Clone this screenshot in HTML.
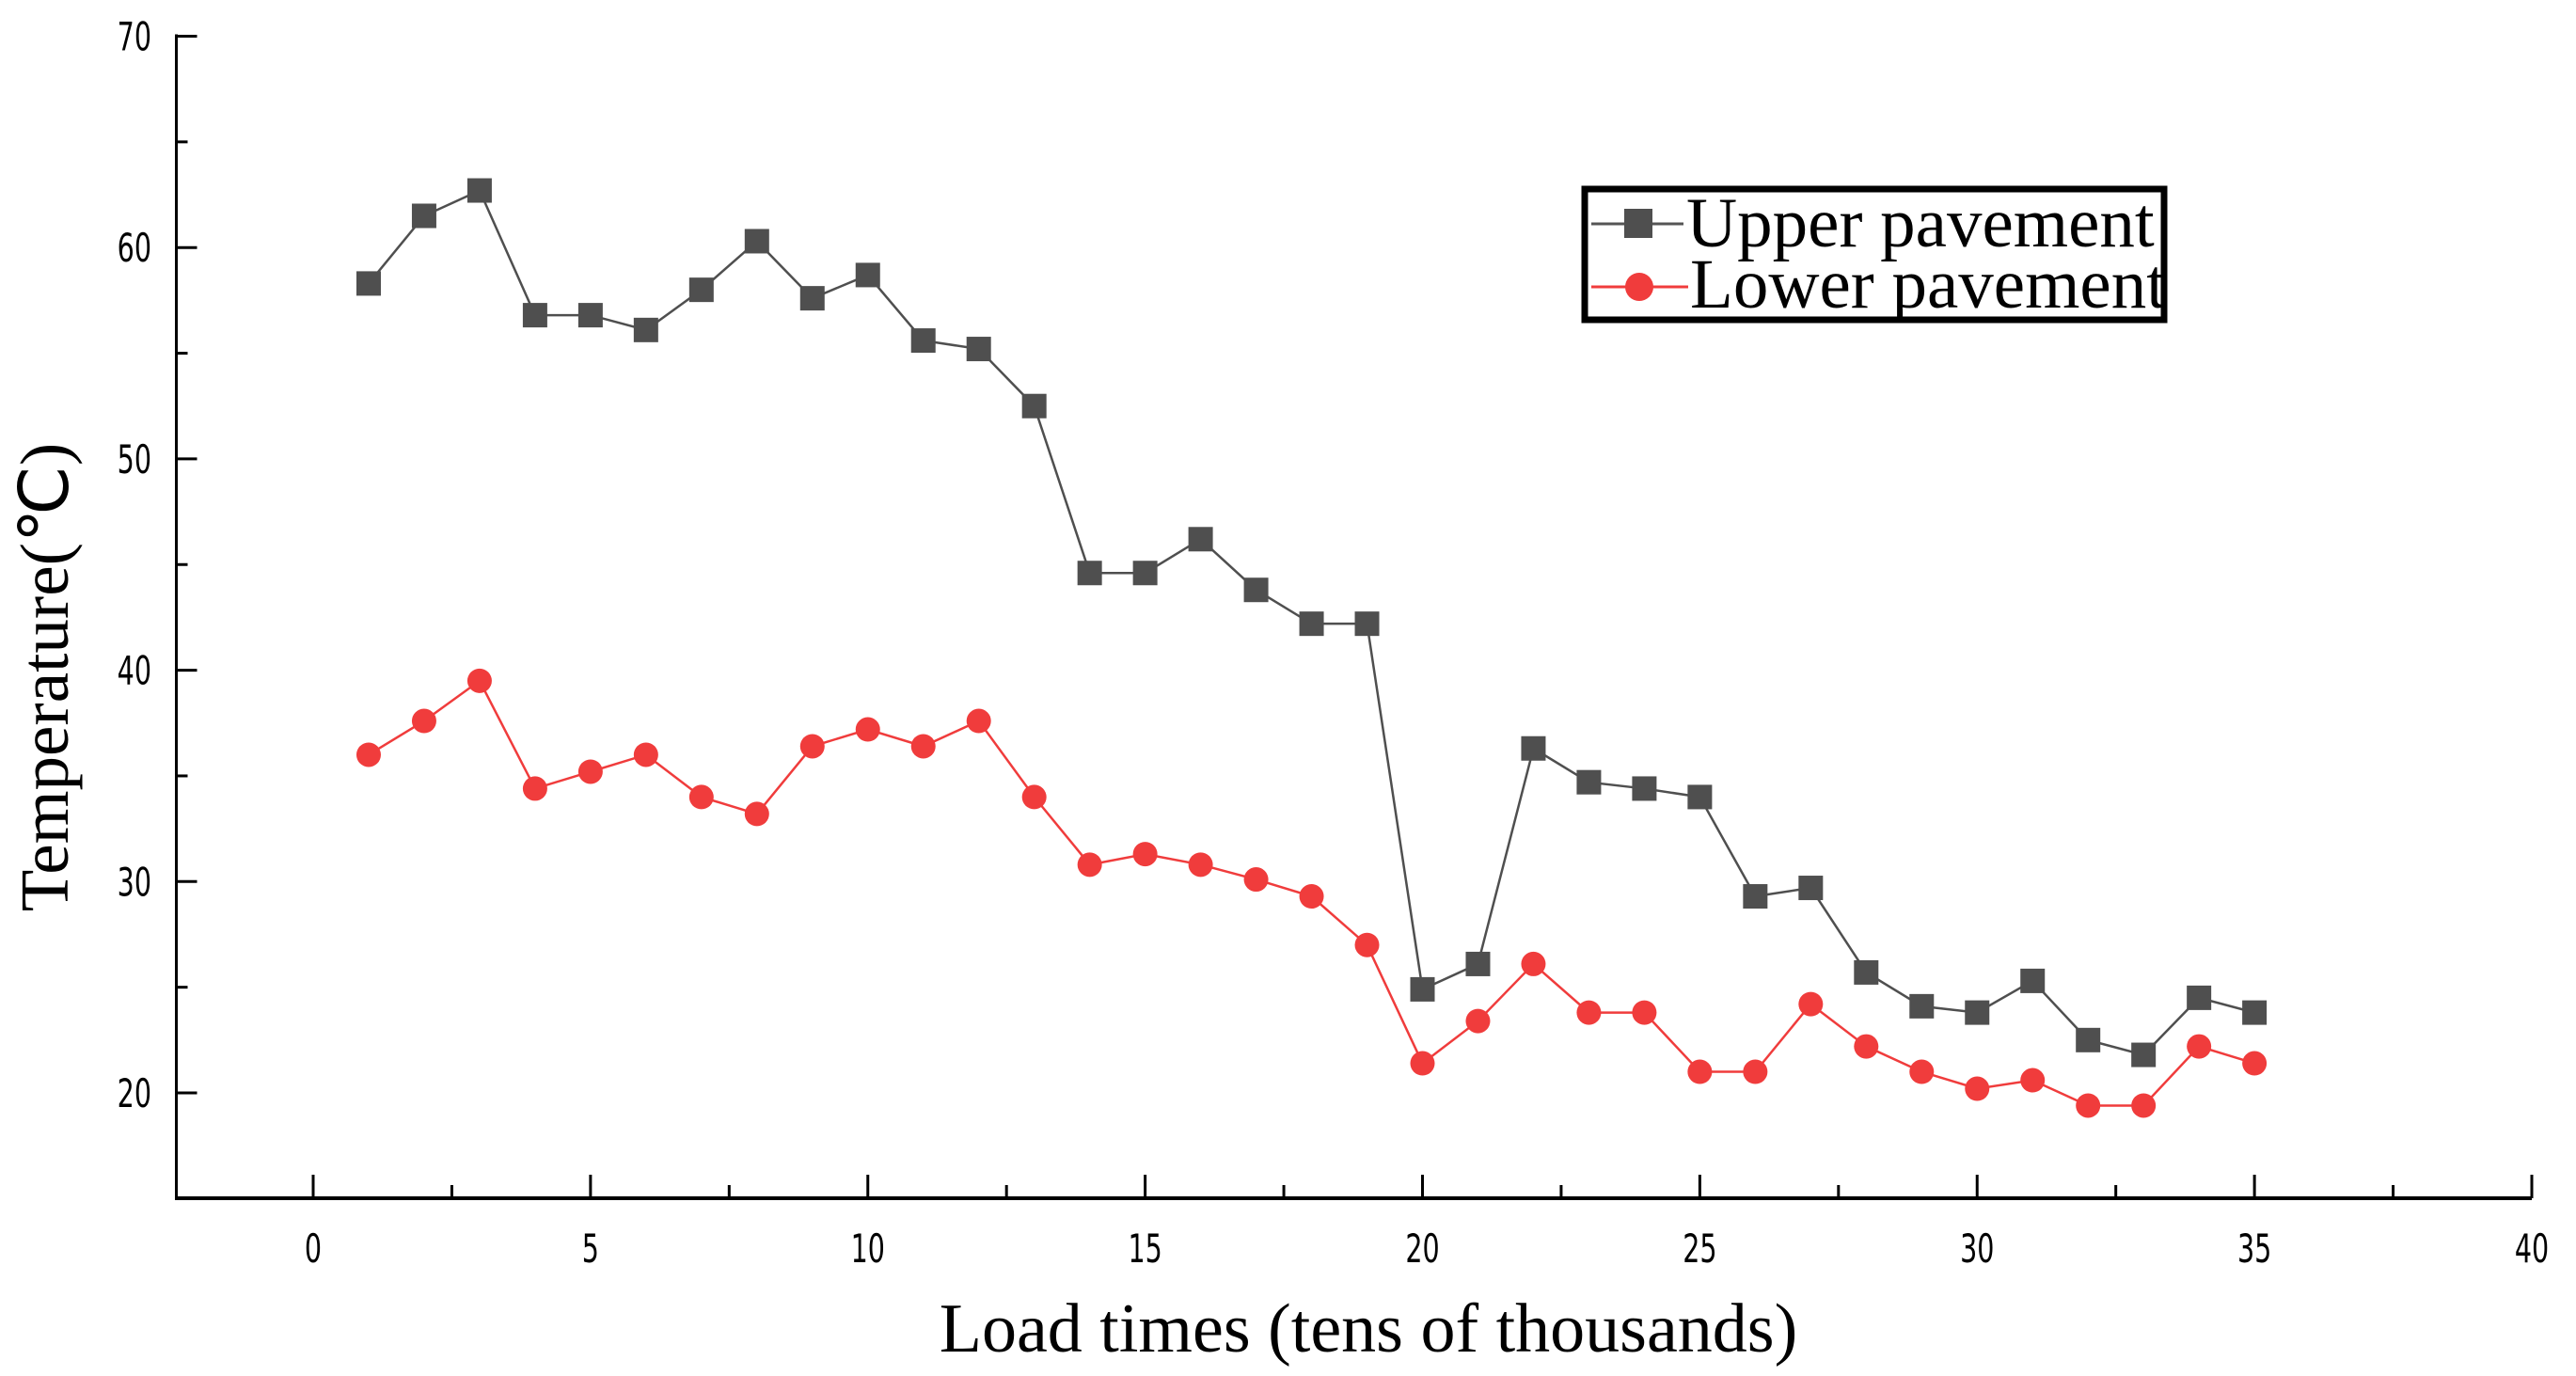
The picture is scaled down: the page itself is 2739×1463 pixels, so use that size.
<!DOCTYPE html>
<html><head><meta charset="utf-8"><style>
html,body{margin:0;padding:0;background:#fff;}
svg{display:block;}
.tk{font-family:"DejaVu Sans","Liberation Sans",sans-serif;font-size:42px;fill:#000;}
.ti{font-family:"Liberation Serif",serif;fill:#000;}
</style></head><body>
<svg id="chart" width="2739" height="1463" viewBox="0 0 2739 1463" xmlns="http://www.w3.org/2000/svg">
<g id="axes"></g>
<g id="series"></g>
<text class="ti" x="1455" y="1437" font-size="74" text-anchor="middle">Load times (tens of thousands)</text>
<text class="ti" transform="translate(72,720) rotate(-90)" font-size="73" text-anchor="middle">Temperature(℃)</text>
<g>
<rect x="1685" y="201" width="616" height="139" fill="#fff" stroke="#000" stroke-width="7"/>
<g>
<line x1="1692" y1="238" x2="1790" y2="238" stroke="#555" stroke-width="3"/>
<rect x="1727" y="222" width="30" height="31" fill="#4f4f4f"/>
<text class="ti" x="1793" y="262" font-size="75">Upper pavement</text>
</g>
<g>
<line x1="1692" y1="305" x2="1795" y2="305" stroke="#f03c3c" stroke-width="3"/>
<circle cx="1743" cy="305" r="15" fill="#f03c3c"/>
<text class="ti" x="1797" y="327" font-size="75">Lower pavement</text>
</g>
</g>
</svg>
<script>
const xCats=[1,2,3,4,5,6,7,8,9,10,11,12,13,14,15,16,17,18,19,20,21,22,23,24,25,26,27,28,29,30,31,32,33,34,35];
const upperVals=[58.3,61.5,62.7,56.8,56.8,56.1,58.0,60.3,57.6,58.7,55.6,55.2,52.5,44.6,44.6,46.2,43.8,42.2,42.2,24.9,26.1,36.3,34.7,34.4,34.0,29.3,29.7,25.7,24.1,23.8,25.3,22.5,21.8,24.5,23.8];
const lowerVals=[36.0,37.6,39.5,34.4,35.2,36.0,34.0,33.2,36.4,37.2,36.4,37.6,34.0,30.8,31.3,30.8,30.1,29.3,27.0,21.4,23.4,26.1,23.8,23.8,21.0,21.0,24.2,22.2,21.0,20.2,20.6,19.4,19.4,22.2,21.4];
const xTicks=[0,5,10,15,20,25,30,35,40];
const yTicks=[20,30,40,50,60,70];

const NS="http://www.w3.org/2000/svg";
const X0=333,X1=2692,Y70=38.5,Y20=1162,AXY=1274,AXX=187.5;
function xs(v){return X0+(v-0)/40*(X1-X0);}
function ys(v){return Y20+(v-20)/50*(Y70-Y20);}
function mk(tag,attrs,parent){const e=document.createElementNS(NS,tag);for(const k in attrs)e.setAttribute(k,attrs[k]);parent.appendChild(e);return e;}
const ax=document.getElementById('axes');
let l=mk('line',{x1:AXX,y1:Y70-2,x2:AXX,y2:AXY+2,stroke:'#000','stroke-width':3},ax);


l=mk('line',{x1:AXX-1,y1:AXY,x2:X1,y2:AXY,stroke:'#000','stroke-width':4},ax);


yTicks.forEach(v=>{
  const y=ys(v);
  let t=mk('line',{x1:AXX,y1:y,x2:AXX+22,y2:y,stroke:'#000','stroke-width':3},ax);
  
  
  if(v<70){let m=mk('line',{x1:AXX,y1:ys(v+5),x2:AXX+12,y2:ys(v+5),stroke:'#000','stroke-width':3},ax);
  
  }
  let tx=mk('text',{transform:'translate(161,'+(y+15)+') scale(0.68,1)','text-anchor':'end',class:'tk'},ax);
  tx.textContent=v;
  
  
});
xTicks.forEach(v=>{
  const x=xs(v);
  let t=mk('line',{x1:x,y1:AXY,x2:x,y2:AXY-25,stroke:'#000','stroke-width':3},ax);
  
  
  if(v<40){let m=mk('line',{x1:xs(v+2.5),y1:AXY,x2:xs(v+2.5),y2:AXY-14,stroke:'#000','stroke-width':3},ax);
  
  }
  let tx=mk('text',{transform:'translate('+x+',1342) scale(0.68,1)','text-anchor':'middle',class:'tk'},ax);
  tx.textContent=v;
  
  
});
const sg=document.getElementById('series');
function drawSeries(vals,color,shape,name){
  const g=mk('g',{},sg);
  
  
  const pts=vals.map((v,i)=>xs(xCats[i])+','+ys(v)).join(' ');
  const pl=mk('polyline',{points:pts,fill:'none',stroke:color,'stroke-width':2.5},g);
  
  
  vals.forEach((v,i)=>{
    const cx=xs(xCats[i]),cy=ys(v);
    let p;
    if(shape==='sq') p=mk('rect',{x:cx-13,y:cy-13,width:26,height:26,fill:color},g);
    else p=mk('circle',{cx:cx,cy:cy,r:13,fill:color},g);
    
    
  });
}
drawSeries(upperVals,'#4f4f4f','sq','upper-pavement');
drawSeries(lowerVals,'#f03c3c','ci','lower-pavement');
</script>
</body></html>
